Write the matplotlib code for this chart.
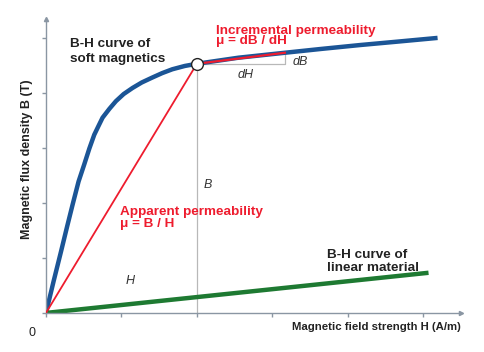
import matplotlib.pyplot as plt

# B-H curve of soft magnetic material (tick units)
soft_h = [0.0, 0.10, 0.20, 0.28, 0.353, 0.432, 0.507, 0.575, 0.64, 0.70, 0.75, 0.84,
          0.927, 1.03, 1.147, 1.27, 1.41, 1.54, 1.675, 1.84, 2.0, 2.55, 3.166, 3.65,
          4.16, 4.68, 5.19]
soft_b = [0.0, 0.57, 1.12, 1.57, 1.97, 2.39, 2.70, 2.99, 3.24, 3.41, 3.55, 3.71,
          3.85, 3.98, 4.09, 4.19, 4.28, 4.36, 4.43, 4.49, 4.53, 4.64, 4.73, 4.80,
          4.87, 4.935, 5.0]

# B-H curve of linear material
lin_h = [0.0, 5.07]
lin_b = [0.0, 0.73]

# working point and tangent end point
h0, b0 = 2.0, 4.53
h1, b1 = 3.166, 4.73

plt.rcParams['font.family'] = ['Liberation Sans', 'DejaVu Sans']

fig = plt.figure(figsize=(4.84, 3.52), dpi=100)
ax = fig.add_axes([0.095, 0.111, 0.8574, 0.836])
ax.set_xlim(0, 5.5)
ax.set_ylim(0, 5.35)

axis_col = '#8a96a3'
for s in ['top', 'right']:
    ax.spines[s].set_visible(False)
for s in ['left', 'bottom']:
    ax.spines[s].set_color(axis_col)
    ax.spines[s].set_linewidth(1.0)
ax.plot(1, 0, '>', color=axis_col, ms=3, transform=ax.get_yaxis_transform(), clip_on=False)
ax.plot(0, 1, '^', color=axis_col, ms=3, transform=ax.get_xaxis_transform(), clip_on=False)
ax.set_xticks(range(6))
ax.set_yticks(range(6))
ax.set_xticklabels([])
ax.set_yticklabels([])
ax.tick_params(length=3, color=axis_col, width=1)

# helper lines
grey = '#b8b8b8'
ax.plot([h0, h0], [0, b0], color=grey, lw=0.9, zorder=1)
ax.plot([h0, h1, h1], [b0, b0, b1], color=grey, lw=0.9, zorder=1)

# curves
ax.plot(soft_h, soft_b, color='#1b5596', lw=3.2, solid_capstyle='butt',
        solid_joinstyle='round', zorder=2)
ax.plot(lin_h, lin_b, color='#1e7a32', lw=3.2, solid_capstyle='butt', zorder=2)
ax.plot([0, h0], [0, b0], color='#ee1c2e', lw=1.3, zorder=3)
ax.plot([h0, h1], [b0, b1], color='#ee1c2e', lw=1.6, zorder=3)
ax.plot(h0, b0, 'o', ms=8.5, mfc='white', mec='#222222', mew=1.0, zorder=4)

# labels
dark = '#222222'
red = '#ee1c2e'
fs = 9.7
ax.text(0.32, 5.0, 'B-H curve of\nsoft magnetics', fontsize=fs, fontweight='bold',
        color=dark, va='top', ha='left', linespacing=1.34)
ax.text(2.25, 5.24, 'Incremental permeability\nμ = dB / dH', fontsize=fs, fontweight='bold',
        color=red, va='top', ha='left', linespacing=0.82)
ax.text(0.98, 1.94, 'Apparent permeability\nμ = B / H', fontsize=fs, fontweight='bold',
        color=red, va='top', ha='left', linespacing=1.0)
ax.text(3.73, 1.16, 'B-H curve of\nlinear material', fontsize=fs, fontweight='bold',
        color=dark, va='top', ha='left', linespacing=1.11)
ax.text(3.27, 4.56, 'dB', fontsize=9, style='italic', color='#333333', va='center', ha='left')
ax.text(2.64, 4.32, 'dH', fontsize=9, style='italic', color='#333333', va='center', ha='center')
ax.text(2.14, 2.32, 'B', fontsize=9, style='italic', color='#333333', va='center', ha='center')
ax.text(1.12, 0.58, 'H', fontsize=9, style='italic', color='#333333', va='center', ha='center')
ax.text(-0.18, -0.37, '0', fontsize=9, color=dark, va='center', ha='center')

ax.text(5.5, -0.26, 'Magnetic field strength H (A/m)', fontsize=8.2, fontweight='bold',
        color=dark, va='center', ha='right')
ax.text(-0.25, 2.79, 'Magnetic flux density B (T)', fontsize=9, fontweight='bold',
        color=dark, va='center', ha='center', rotation=90)

plt.savefig('out.png', dpi=100)
